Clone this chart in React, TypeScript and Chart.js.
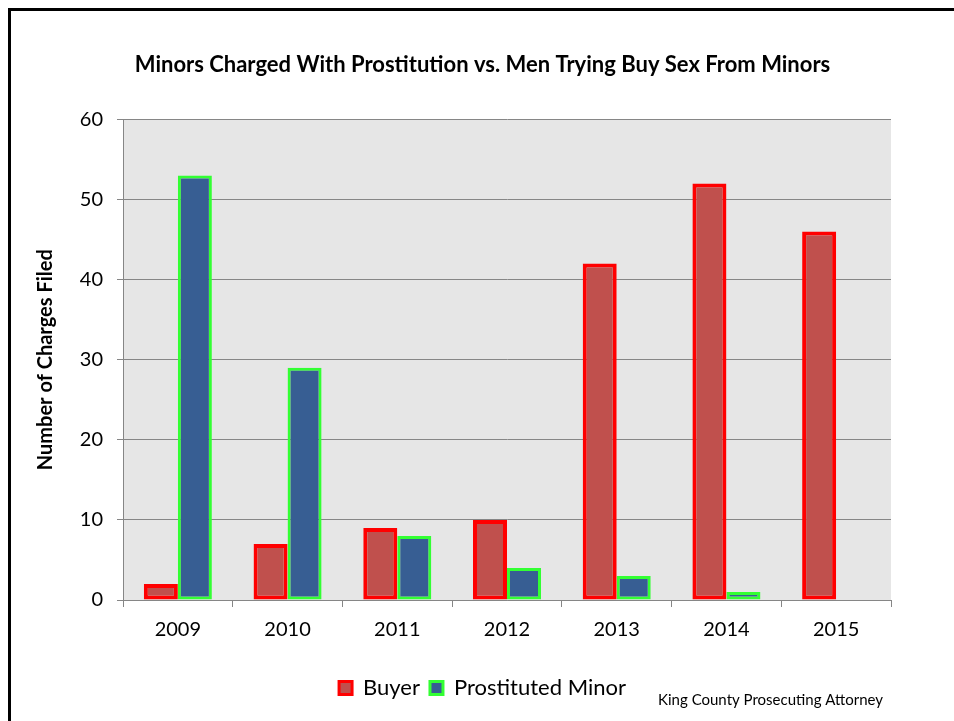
import React, { useEffect, useRef } from "react";
import { Chart, registerables } from "chart.js";

Chart.register(...registerables);

const categories = ["2009", "2010", "2011", "2012", "2013", "2014", "2015"];
const buyerValues = [2, 7, 9, 10, 42, 52, 46];
const minorValues: (number | null)[] = [53, 29, 8, 4, 3, 1, null];
const titleText = "Minors Charged With Prostitution vs. Men Trying Buy Sex From Minors";
const yTitleText = "Number of Charges Filed";
const footerText = "King County Prosecuting Attorney";

const FONT = "Lato, 'Open Sans', sans-serif";

const plotBg = {
  id: "plotBg",
  beforeDraw(chart: any) {
    const { ctx, chartArea, width, height } = chart;
    ctx.save();
    ctx.fillStyle = "#e6e6e6";
    ctx.fillRect(chartArea.left, chartArea.top, chartArea.right - chartArea.left, chartArea.bottom - chartArea.top);
    // outer frame (top and left edges visible in the crop)
    ctx.fillStyle = "#000";
    ctx.fillRect(0, 0, width, 3);
    ctx.fillRect(0, 0, 3, height);
    ctx.restore();
  },
};

const footer = {
  id: "footer",
  afterDraw(chart: any) {
    const { ctx, width, height } = chart;
    ctx.save();
    ctx.font = `15px ${FONT}`;
    ctx.fillStyle = "#000";
    ctx.textAlign = "right";
    ctx.textBaseline = "middle";
    ctx.fillText(footerText, width - 71, height - 21);
    ctx.restore();
  },
};

export default function App() {
  const ref = useRef<HTMLCanvasElement>(null);
  useEffect(() => {
    if (!ref.current) return;
    const chart = new Chart(ref.current, {
      type: "bar",
      data: {
        labels: categories,
        datasets: [
          {
            label: "Buyer",
            data: buyerValues,
            backgroundColor: "#c0504d",
            borderColor: "#ff0000",
            borderWidth: 4,
            borderSkipped: false,
            categoryPercentage: 0.62,
            barPercentage: 1,
          },
          {
            label: "Prostituted Minor",
            data: minorValues,
            backgroundColor: "#375e93",
            borderColor: "#33ff33",
            borderWidth: 3,
            borderSkipped: false,
            categoryPercentage: 0.62,
            barPercentage: 1,
          },
        ],
      },
      options: {
        responsive: false,
        animation: false,
        devicePixelRatio: 1,
        layout: { padding: { left: 3, right: 0, top: 3, bottom: 12 } },
        plugins: {
          title: {
            display: true,
            text: titleText,
            color: "#000",
            font: { family: FONT, size: 22, weight: "bold" },
            padding: { top: 41, bottom: 41 },
          },
          legend: {
            position: "bottom",
            labels: {
              color: "#000",
              font: { family: FONT, size: 22 },
              boxWidth: 13,
              boxHeight: 13,
              padding: 10,
              generateLabels(chart: any) {
                const items = (Chart.defaults.plugins.legend.labels as any).generateLabels(chart);
                items.forEach((it: any) => (it.lineWidth = 3));
                return items;
              },
            },
          },
          tooltip: { enabled: false },
        },
        scales: {
          x: {
            grid: { display: true, drawOnChartArea: false, color: "#868686", tickLength: 7, offset: true },
            border: { display: true, color: "#868686" },
            ticks: { color: "#000", font: { family: FONT, size: 20 }, padding: 11 },
            afterFit(scale: any) {
              scale.height = 67;
            },
          },
          y: {
            min: 0,
            max: 60,
            ticks: { stepSize: 10, color: "#000", font: { family: FONT, size: 20 }, padding: 14 },
            grid: { color: "#868686", tickLength: 6 },
            border: { display: true, color: "#868686" },
            title: {
              display: true,
              text: yTitleText,
              color: "#000",
              font: { family: FONT, size: 20, weight: "bold" },
              padding: { top: 23, bottom: 0 },
            },
            afterFit(scale: any) {
              scale.width = 112;
            },
          },
          y2: {
            position: "right",
            display: true,
            grid: { display: false },
            border: { display: false },
            ticks: { display: false },
            afterFit(scale: any) {
              scale.width = 63;
            },
          },
        },
      },
      plugins: [plotBg, footer],
    });
    return () => chart.destroy();
  }, []);

  return (
    <div style={{ position: "fixed", left: 8, top: 8, width: 946, height: 713 }}>
      <canvas ref={ref} width={946} height={713} style={{ display: "block" }} />
    </div>
  );
}
